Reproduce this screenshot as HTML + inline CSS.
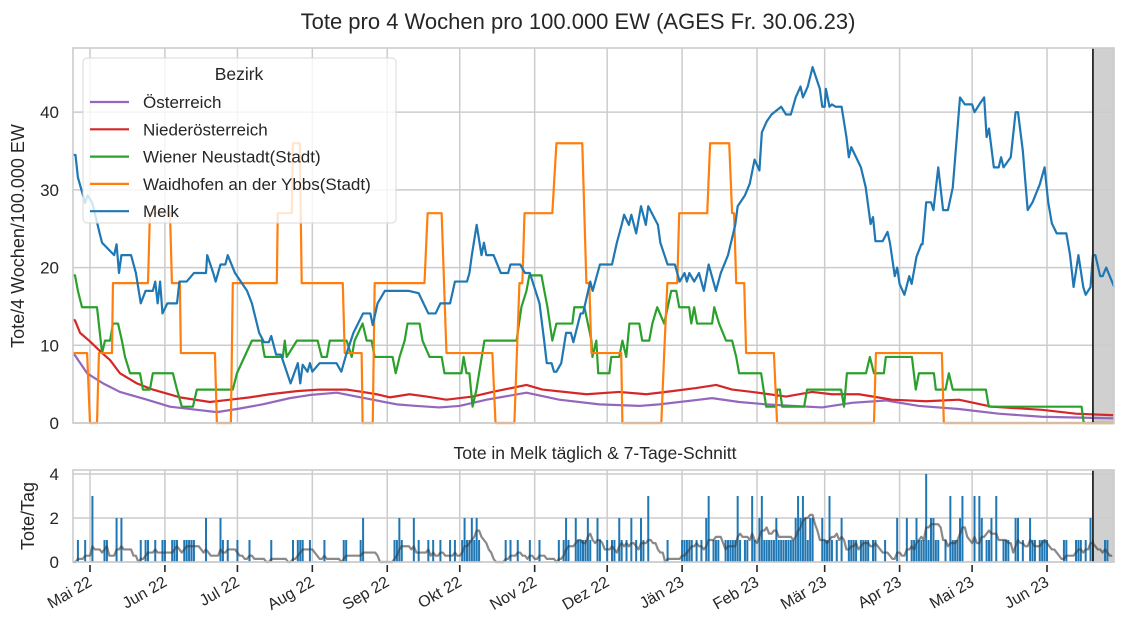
<!DOCTYPE html>
<html><head><meta charset="utf-8"><style>
html,body{margin:0;padding:0;background:#fff;}
svg{display:block;font-family:"Liberation Sans",Arial,sans-serif;}
</style></head><body>
<svg id="chart" width="1127" height="636" viewBox="0 0 1127 636" xmlns="http://www.w3.org/2000/svg">
<rect x="0" y="0" width="1127" height="636" fill="#fff"/>
<text x="578" y="29" font-size="22" fill="#262626" text-anchor="middle">Tote pro 4 Wochen pro 100.000 EW (AGES Fr. 30.06.23)</text>
<text transform="translate(24,236) rotate(-90)" font-size="18" fill="#262626" text-anchor="middle">Tote/4 Wochen/100.000 EW</text>
<text x="595" y="459" font-size="17.5" fill="#262626" text-anchor="middle">Tote in Melk täglich &amp; 7-Tage-Schnitt</text>
<text transform="translate(34,516) rotate(-90)" font-size="18" fill="#262626" text-anchor="middle">Tote/Tag</text>
<g id="g"></g>
</svg>
<script>
// ===== data (x in days since 2022-04-24) =====
const monthLabels = ["Mai 22","Jun 22","Jul 22","Aug 22","Sep 22","Okt 22","Nov 22","Dez 22","Jän 23","Feb 23","Mär 23","Apr 23","Mai 23","Jun 23"];
const monthDays = [7,38,68,99,130,160,191,221,252,283,311,342,372,403];
const yTicksTop = [0,10,20,30,40];
const yTicksBottom = [0,2,4];
const cutoffDay = 422;

const melkDays = [0,1,2,5,6,8,11,12,17,18,19,20,24,26,28,30,33,34,35,36,37,39,43,44,47,50,55,55.5,58,59,61,63,64,67,72,74,77,79,81,82,84,86,90,93,94,95,97,98,99,102,109,111,113,116,120,123,124,126,129,139,143,147,150,152,156,158,163,164,165,167,169,170,171,174,177,180,181,185,187,189,193,195,196,198,199,200,202,204,206,207,210,211,214,215,218,223,225,227,228,230,231,233,235,237,238,242,243,246,249,251,253,254,255,257,259,261,263,266,268,271,274,275,278,280,282,284,285,287,289,293,295,297,299,301,302,304,306,309,310,311,311.5,313,314,315.5,318,320,321,322,324,326,328,330,331,332,335,337,338,339.5,340,341,342,344,346,347,349,351,351.5,353,355,356,358,360,362,364,367,369,372,373,375,377,378,379,381,383,384,385,388,390,391,393,395,397,400,402,403.5,405,407,411,412.5,414,416,418,419,421,422,423,425,426,427.5,431];
const melkVals = [34.5,34.5,31.6,28.3,29.3,28.3,24.4,23.2,21.6,23,19.3,21.6,21.6,19.3,15.4,17,17,18.2,15.4,18.2,14.1,15.4,15.4,18.2,18.2,19.3,19.3,21.6,19.3,18.2,20.4,20.4,21.6,19.3,17,15.4,11.6,10.4,10.4,11.2,8.8,8.8,5.1,7.7,5.1,7.5,6.6,7.7,6.6,7.7,7.7,6.6,8.8,11.6,14.1,14.1,12.6,15.4,17,17,16.7,14.1,14.1,15.4,15.4,18.2,18.2,19.3,21.6,25.5,21.6,23.2,21.6,21.6,19.3,19.3,20.4,20.4,19.3,19.3,15.4,10.4,7.7,7.7,6.6,6.6,7.7,11.6,11.6,10.4,14.1,14.1,18.2,17,20.4,20.4,23.2,25.5,26.8,25.5,26.8,24.4,27.9,25.5,27.9,25.5,23.2,20.4,20.4,18.2,19.3,18.2,19.3,18.2,19.3,17,20.4,17,19.3,21.6,25.5,27.9,29.3,30.8,33.9,32.5,37.4,38.8,39.7,40.7,39.7,39.7,41.9,43.3,41.9,43.3,45.8,43,40.7,40.7,43,40.7,41,40.7,40.7,36.8,34.2,35.5,34.2,32.9,30.3,25.6,26.5,23.4,23.4,24.6,23.2,20,18.9,20,17.9,16.5,18.9,17.9,21.4,23,23,28.4,28.4,27.4,32.9,27.4,27.4,30.3,41.9,41,41,40,41,41.9,36.8,37.9,32.9,32.9,34.2,32.9,34.2,40,40,35,27.4,28.4,30.7,32.9,28.4,25.7,24.4,24.4,21.7,17.5,21.6,17.5,16.5,17.5,21.6,21.6,18.9,18.9,20,17.5];

const waidDays = [0,5.8,7,9.9,10.7,16.1,16.5,31,31.8,40.1,40.9,44.2,44.6,58.7,59.5,65.3,66.1,84.3,84.7,90.5,90.9,93.8,94.6,111.6,112.4,119.4,119.8,124,124.8,145.4,146.7,152.5,154.5,173.5,174.8,182.6,184.7,185.9,186.8,198.3,200,210.7,212.4,213.6,214.5,226.8,227.3,243.4,244.6,245.9,250,250.8,262.4,263.6,271.5,272.7,273.5,274.4,277.7,278.5,290,291.3,331.4,332.2,359.5,360.3,431];
const waidVals = [9,9,0,0,9,9,18,18,27,27,18,18,9,9,0,0,18,18,27,27,36,36,18,18,9,9,0,0,18,18,27,27,9,9,0,0,18,18,27,27,36,36,18,18,9,9,0,0,9,18,18,27,27,36,36,27,27,18,18,9,9,0,0,9,9,0,0];

const wnDays = [0,0.8,2,3.7,9.9,12,13.2,15.3,16.5,18.6,20.2,21.5,23.6,27.7,28.9,31.8,33,41.3,43,45,49.6,51.2,66.1,67.8,74,78.1,79.3,86.8,87.6,88.4,92.6,101.2,102.9,105,106.2,113.2,115.3,116.5,119.8,121.5,123.5,124.8,132.2,133.5,135.1,137.2,138.4,143.4,144.6,147.5,152.5,153.7,160.7,161.6,162.8,164,165.3,166.9,170.2,183.5,185.5,187.6,188.8,193.8,195,196.3,198.3,200,206.6,207.4,211.6,214.5,214.9,216.5,217.3,221.9,222.7,226,227.3,228.9,230.2,234.3,235.5,238.4,239.7,241.7,244.6,247.5,249.6,250.8,254.9,255.8,257,258.2,264.4,265.3,267.3,270.2,272.7,274.4,275.6,284.7,286.8,290.9,291.3,292.5,293.4,302.5,303.7,317.8,319,320.2,328.1,329.7,331.4,335.5,336.3,347.1,348.7,350,356.2,357,361,362.4,364,377.7,378.9,417.3,418.2,431];
const wnVals = [19,19,17,14.9,14.9,9,10.6,10.6,12.8,12.8,10.6,8.5,6.4,6.4,4.3,4.3,6.4,6.4,4.3,2.1,2.1,4.3,4.3,6.4,10.6,10.6,8.5,8.5,10.6,8.5,10.6,10.6,8.5,8.5,10.6,10.6,8.5,10.6,12.8,10.6,10.6,8.5,8.5,6.4,8.5,10.6,12.8,12.8,10.6,8.5,8.5,6.4,6.4,8.5,6.4,6.4,2.1,4.3,10.6,10.6,14.9,17,19,19,17,14.9,10.6,12.8,12.8,14.9,14.9,10.6,8.5,10.6,6.4,6.4,8.5,8.5,10.6,8.5,12.8,12.8,10.6,10.6,12.8,14.9,12.8,17,17,14.9,14.9,12.8,14.9,12.8,12.8,14.9,12.8,10.6,10.6,8.5,6.4,6.4,2.1,2.1,4.3,4.3,2.1,2.1,4.3,4.3,2.1,6.4,6.4,8.5,6.4,6.4,8.5,8.5,4.3,6.4,6.4,4.3,4.3,6.4,4.3,4.3,2.1,2.1,0,0];

const noeDays = [0,0.8,2.9,7,12,15.3,19.4,26.4,33,44.2,56.6,64.9,73.1,81.4,92.6,102,113.2,119.8,125.6,131,139.2,146.3,154.5,165.3,173.5,187.6,194.2,212.4,226,237.2,247.9,257.8,266.1,272.7,281,295,305.8,314,325.2,338.8,352.9,366.5,380.1,400.8,414.9,431];
const noeVals = [13.3,13.2,11.6,10.5,9,8.1,6.4,5.1,4.3,3.3,2.7,3,3.3,3.7,4.1,4.3,4.3,4,3.7,3.3,3.7,3.4,3,3.4,4,4.9,4.3,3.7,4,3.7,4.1,4.5,4.9,4.3,4,3.4,4,3.7,3.7,3,2.8,3,2.1,1.7,1.2,1];

const atDays = [0,0.8,5.8,12.4,19.4,30.6,40.1,51.2,59.5,67.8,78.5,89.7,97.9,109.1,117.3,125.6,133.9,142.1,151.6,159.9,171.1,187.6,201.2,217.8,234.3,242.5,259.1,264.4,275.6,286.8,297.5,309.9,322.3,336.3,350,366.5,383,400.8,431];
const atVals = [8.9,8.7,6.4,5.1,4,3,2.1,1.7,1.4,1.8,2.4,3.2,3.6,3.9,3.4,2.9,2.4,2.2,2,2.2,3,3.9,3,2.4,2.2,2.4,3,3.2,2.7,2.4,2.2,2,2.6,2.9,2.2,1.8,1.2,0.8,0.6];

const deathDays = [2,5,8,13,14,18,20,28,30,31,34,37,38,41,42,43,46,47,48,49,50,55,61,62,64,68,73,82,91,93,94,95,98,104,112,113,119,120,133,134,135,136,141,143,147,149,152,156,158,161,162,163,164,165,166,167,168,179,181,184,189,193,201,203,204,205,208,209,210,211,212,213,214,217,218,221,223,224,226,227,229,231,233,235,236,238,246,252,253,254,255,256,258,260,262,263,265,266,267,270,271,272,273,274,275,276,278,279,281,282,284,285,286,287,288,289,290,291,292,293,294,295,296,297,298,299,300,301,302,303,304,305,306,310,311,312,313,314,316,318,321,322,323,324,326,327,328,329,331,332,336,341,345,347,348,349,350,351,352,353,354,355,356,357,358,361,363,364,365,366,367,368,373,375,376,378,379,380,382,385,386,387,390,391,393,396,397,398,400,401,402,403,410,411,415,416,417,419,421,422,427,428];
const deathCounts = [1,1,3,1,1,2,2,1,1,1,1,1,1,1,1,1,1,1,1,1,1,2,2,1,1,1,1,1,1,1,1,1,1,1,1,1,1,2,1,1,2,1,2,1,1,1,1,1,1,1,2,1,1,2,1,2,1,1,1,1,1,1,1,1,2,1,2,1,1,1,1,2,1,2,1,1,1,1,2,1,1,2,1,2,1,3,1,1,1,1,1,1,1,1,2,3,1,1,1,1,1,1,1,1,3,1,1,1,3,1,2,3,1,1,1,1,1,2,1,1,1,1,1,1,1,2,3,2,3,2,1,2,2,2,1,1,3,1,1,2,1,1,1,1,1,1,1,1,1,1,1,2,2,1,1,2,1,1,1,4,1,2,2,1,1,1,3,1,1,1,2,3,3,3,2,1,1,2,3,1,1,1,2,2,1,2,1,1,1,1,1,1,1,1,1,1,1,1,2,1,1,1,4,2,1];

// ===== scales =====
const X0 = 73.08, PXD = 2.4167;
function xs(d){ return X0 + d*PXD; }
const TOP_T = 48, TOP_B = 423, TOP_MAX = 48.26;
function yTop(v){ return TOP_B - v*(TOP_B-TOP_T)/TOP_MAX; }
const BOT_T = 470, BOT_B = 562, BOT_MAX = 4.18;
function yBot(v){ return BOT_B - v*(BOT_B-BOT_T)/BOT_MAX; }
const PL = 73, PR = 1114;

const NS = "http://www.w3.org/2000/svg";
const g = document.getElementById("g");
function mk(tag, attrs, parent){
  const e = document.createElementNS(NS, tag);
  for (const k in attrs) e.setAttribute(k, attrs[k]);
  (parent||g).appendChild(e);
  return e;
}

let e;
e = mk("rect",{x:xs(cutoffDay),y:TOP_T,width:PR-xs(cutoffDay),height:TOP_B-TOP_T,fill:"#d0d0d0"});


e = mk("rect",{x:xs(cutoffDay),y:BOT_T,width:PR-xs(cutoffDay),height:BOT_B-BOT_T,fill:"#d0d0d0"});



monthDays.forEach((d,i)=>{
  let l = mk("line",{x1:xs(d),x2:xs(d),y1:TOP_T,y2:TOP_B,stroke:"#cccccc","stroke-width":1.5});
  
  
  l = mk("line",{x1:xs(d),x2:xs(d),y1:BOT_T,y2:BOT_B,stroke:"#cccccc","stroke-width":1.5});
  
  
  l = mk("line",{x1:xs(d),x2:xs(d),y1:BOT_B+3,y2:BOT_B+10,stroke:"#262626","stroke-width":1.6});
  
  
  const t = mk("text",{x:0,y:0,"font-size":16,fill:"#262626","text-anchor":"end",transform:`translate(${xs(d)+3},${BOT_B+23}) rotate(-30)`});
  t.textContent = monthLabels[i];
  
  
});
yTicksTop.forEach(v=>{
  let l = mk("line",{x1:PL,x2:PR,y1:yTop(v),y2:yTop(v),stroke:"#cccccc","stroke-width":1.5});
  
  
  const t = mk("text",{x:59,y:yTop(v)+6,"font-size":17,fill:"#262626","text-anchor":"end"});
  t.textContent = v;
  
  
});
yTicksBottom.forEach(v=>{
  let l = mk("line",{x1:PL,x2:PR,y1:yBot(v),y2:yBot(v),stroke:"#cccccc","stroke-width":1.5});
  
  
  const t = mk("text",{x:59,y:yBot(v)+6,"font-size":17,fill:"#262626","text-anchor":"end"});
  t.textContent = v;
  
  
});

function line(days, vals, color, name){
  const pts = days.map((d,i)=>xs(Math.min(d,430.8)).toFixed(2)+","+yTop(vals[i]).toFixed(2)).join(" ");
  const p = mk("polyline",{points:pts,fill:"none",stroke:color,"stroke-width":2.2,"stroke-linejoin":"round"});
  
  
}
line(atDays, atVals, "#9467bd", "line-oesterreich");
line(noeDays, noeVals, "#d62728", "line-niederoesterreich");
line(wnDays, wnVals, "#2ca02c", "line-wiener-neustadt");
line(waidDays, waidVals, "#ff7f0e", "line-waidhofen");
line(melkDays, melkVals, "#1f77b4", "line-melk");

deathDays.forEach((d,i)=>{
  const r = mk("rect",{x:xs(d)-1,y:yBot(deathCounts[i]),width:2,height:BOT_B-yBot(deathCounts[i]),fill:"#1f77b4"});
  
  
});
const daily = new Array(431).fill(0);
deathDays.forEach((d,i)=>{ daily[d] += deathCounts[i]; });
const avgPts = [];
for (let d=0; d<=430; d++){
  let s=0;
  for (let k=d-6;k<=d;k++){ if(k>=0){ s+=daily[k]; } }
  avgPts.push(xs(d).toFixed(2)+","+yBot(s/7).toFixed(2));
}
e = mk("polyline",{points:avgPts.join(" "),fill:"none",stroke:"rgba(60,60,60,0.6)","stroke-width":2.2,"stroke-linejoin":"round"});



e = mk("line",{x1:xs(cutoffDay),x2:xs(cutoffDay),y1:TOP_T,y2:TOP_B,stroke:"#262626","stroke-width":1.8});


e = mk("line",{x1:xs(cutoffDay),x2:xs(cutoffDay),y1:BOT_T,y2:BOT_B,stroke:"#262626","stroke-width":1.8});



e = mk("rect",{x:PL,y:TOP_T,width:PR-PL,height:TOP_B-TOP_T,fill:"none",stroke:"#cccccc","stroke-width":1.6});


e = mk("rect",{x:PL,y:BOT_T,width:PR-PL,height:BOT_B-BOT_T,fill:"none",stroke:"#cccccc","stroke-width":1.6});



const legNames = ["Österreich","Niederösterreich","Wiener Neustadt(Stadt)","Waidhofen an der Ybbs(Stadt)","Melk"];
const legColors = ["#9467bd","#d62728","#2ca02c","#ff7f0e","#1f77b4"];
const lg = mk("g",{});


e = mk("rect",{x:83,y:58,width:313,height:165,rx:4,fill:"rgba(255,255,255,0.8)",stroke:"#d8d8d8","stroke-width":1},lg);


e = mk("text",{x:239,y:80,"font-size":17.5,fill:"#262626","text-anchor":"middle"},lg);
e.textContent = "Bezirk";


legNames.forEach((n,i)=>{
  const y = 102 + i*27.3;
  const eg = mk("g",{},lg);
  
  
  mk("line",{x1:90,x2:129,y1:y,y2:y,stroke:legColors[i],"stroke-width":2.2},eg);
  const t = mk("text",{x:143,y:y+6,"font-size":17,fill:"#262626"},eg);
  t.textContent = n;
});
</script>
</body></html>
